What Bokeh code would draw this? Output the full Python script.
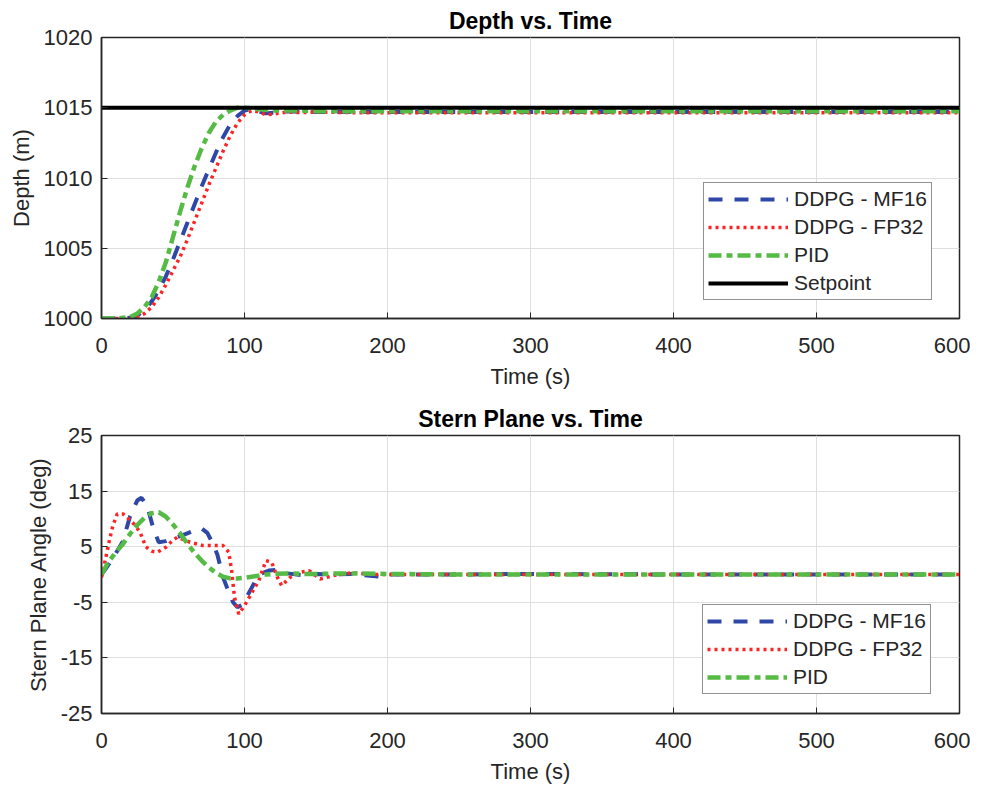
from bokeh.plotting import figure
from bokeh.models import Legend, LegendItem, FixedTicker, Range1d
from bokeh.layouts import column
from bokeh.embed import file_html
from bokeh.resources import INLINE

# ---------------- data ----------------
time_ticks = [0, 100, 200, 300, 400, 500, 600]
depth_ticks = [1000, 1005, 1010, 1015, 1020]
angle_ticks = [-25, -15, -5, 5, 15, 25]
angle_tick_labels = {-25: "-25", -15: "-15", -5: "-5", 5: "5", 15: "15", 25: "25"}

t_depth = [0, 10, 20, 25, 30, 35, 40, 45, 50, 55, 60, 65, 70, 75, 80, 85, 90, 95,
           100, 105, 110, 115, 120, 130, 140, 150, 175, 200, 250, 300, 400, 500, 600]
depth_mf16 = [1000, 1000, 1000.05, 1000.2, 1000.6, 1001.2, 1002.0, 1003.0, 1004.2, 1005.5,
              1006.8, 1008.1, 1009.4, 1010.6, 1011.8, 1012.9, 1013.8, 1014.4,
              1014.8, 1014.9, 1014.75, 1014.6, 1014.65, 1014.75, 1014.7, 1014.7, 1014.7,
              1014.7, 1014.7, 1014.7, 1014.7, 1014.7, 1014.7]
depth_fp32 = [1000, 1000, 1000, 1000.1, 1000.35, 1000.8, 1001.5, 1002.4, 1003.4, 1004.4,
              1005.6, 1006.9, 1008.2, 1009.5, 1010.7, 1011.9, 1013.0, 1013.9,
              1014.5, 1014.8, 1014.7, 1014.5, 1014.55, 1014.7, 1014.65, 1014.7, 1014.65,
              1014.65, 1014.65, 1014.65, 1014.65, 1014.65, 1014.65]
depth_pid = [1000, 1000, 1000.1, 1000.35, 1000.8, 1001.5, 1002.6, 1004.0, 1005.8, 1007.6,
             1009.3, 1010.8, 1012.1, 1013.2, 1014.0, 1014.5, 1014.8, 1015.0,
             1015.0, 1014.95, 1014.9, 1014.85, 1014.8, 1014.8, 1014.8, 1014.75, 1014.75,
             1014.75, 1014.75, 1014.75, 1014.75, 1014.75, 1014.75]
t_setpoint = [0, 600]
depth_setpoint = [1015, 1015]

t_mf16 = [0, 5, 10, 15, 20, 25, 28, 32, 36, 40, 45, 50, 55, 60, 65, 70, 74, 78, 81, 85, 88,
          92, 95, 98, 101, 105, 108, 112, 117, 122, 126, 130, 140, 150, 160, 175, 195, 200,
          250, 300, 400, 500, 600]
angle_mf16 = [0, 1.8, 3.8, 6, 10.5, 13.3, 13.8, 12.3, 8.5, 5.8, 6, 6.5, 6.9, 7.4, 7.9, 8.3,
              7.5, 5.5, 3.6, -0.5, -2.5, -5, -5.9, -5.5, -4.3, -2.4, -1, 0.2, 0.7, 0.8, 0.6,
              0.2, -0.1, 0.1, 0, 0.1, -0.4, 0, 0, 0.1, 0, 0, 0]

t_fp32 = [0, 3, 6, 8, 11, 15, 19, 23, 27, 31, 35, 39, 45, 50, 53, 58, 62, 71, 80, 85, 89, 91,
          93, 96, 100, 104, 110, 115, 119, 123, 126, 132, 139, 145, 153, 162, 175, 190, 250,
          300, 400, 500, 600]
angle_fp32 = [-0.5, 3, 6.7, 8.8, 10.9, 10.9, 10, 9, 7.6, 5, 4.2, 4, 4.9, 6.2, 6.7, 6.2, 5.8,
              5.2, 5.2, 5.2, 4, 0.7, -4.1, -7.1, -5.6, -3.8, -1.1, 2.5, 2.2, -0.5, -2, -0.5,
              0.4, 0.7, -0.8, -0.2, 0.3, 0, 0, 0, 0, 0, 0]

t_pid = [0, 5, 10, 15, 20, 25, 30, 35, 40, 45, 50, 55, 60, 65, 70, 75, 80, 85, 90, 95, 100,
         105, 110, 115, 120, 130, 140, 150, 170, 200, 250, 300, 400, 500, 600]
angle_pid = [0, 2.3, 4, 5.5, 7.3, 8.9, 10.2, 11, 11.2, 10.4, 9, 7.4, 5.6, 3.9, 2.5, 1.3, 0.3,
             -0.4, -0.7, -0.7, -0.6, -0.4, -0.2, 0, 0.1, 0.2, 0.1, 0.1, 0.2, 0.1, 0, 0, 0, 0, 0]

# ---------------- styles ----------------
FONT = "Liberation Sans"
TXT = "#262626"
BLUE = "#2f48a8"
RED = "#ff2222"
GREEN = "#55bb44"
BLACK = "#000000"
W = 970


def make_fig(title, h, top, bottom, yr, yticks, ylabel):
    p = figure(width=W, height=h, output_backend="svg", toolbar_location=None,
               x_range=Range1d(0, 600), y_range=Range1d(*yr),
               min_border_left=101, min_border_right=W - 959,
               min_border_top=top, min_border_bottom=bottom,
               background_fill_color="white", border_fill_color="white")
    p.title.text = title
    p.title.text_font = FONT
    p.title.text_font_size = "23px"
    p.title.text_font_style = "bold"
    p.title.text_color = "#000000"
    p.title.align = "center"
    p.title.standoff = 7
    p.title.offset = 0

    p.xaxis.ticker = FixedTicker(ticks=time_ticks)
    p.yaxis.ticker = FixedTicker(ticks=yticks)
    p.xaxis.axis_label = "Time (s)"
    p.yaxis.axis_label = ylabel
    for ax in (p.xaxis[0], p.yaxis[0]):
        ax.axis_label_text_font = FONT
        ax.axis_label_text_font_size = "22px"
        ax.axis_label_text_font_style = "normal"
        ax.axis_label_text_color = TXT
        ax.major_label_text_font = FONT
        ax.major_label_text_font_size = "22px"
        ax.major_label_text_color = TXT
        ax.major_tick_in = 6
        ax.major_tick_out = 0
        ax.major_tick_line_color = TXT
        ax.minor_tick_line_color = None
        ax.axis_line_color = TXT
        ax.axis_line_width = 1.5
    p.xaxis.major_label_standoff = 19
    p.xaxis.axis_label_standoff = 8
    p.yaxis.major_label_standoff = 9
    p.yaxis.axis_label_standoff = 7

    p.xgrid.ticker = FixedTicker(ticks=time_ticks)
    p.ygrid.ticker = FixedTicker(ticks=yticks)
    p.grid.grid_line_color = "#dfdfdf"
    p.grid.grid_line_width = 1
    p.outline_line_color = TXT
    p.outline_line_width = 1.5
    return p


def make_legend(items, loc):
    return Legend(items=items, location=loc, border_line_color=TXT, border_line_width=1.5,
                  label_text_font=FONT, label_text_font_size="21px", label_text_color=TXT,
                  glyph_width=80, glyph_height=22, label_height=22, label_standoff=6,
                  spacing=4, padding=4, margin=0, background_fill_color="white",
                  background_fill_alpha=1)


H1 = 400
H2 = 392

# ---------------- top figure ----------------
p1 = make_fig("Depth vs. Time", H1, 37, H1 - 318, (1000, 1020), depth_ticks, "Depth (m)")
r1 = p1.line(t_depth, depth_mf16, line_color=BLUE, line_width=4, line_dash="14 12")
r2 = p1.line(t_depth, depth_fp32, line_color=RED, line_width=3.5, line_dash="3 4")
r3 = p1.line(t_depth, depth_pid, line_color=GREEN, line_width=4.5, line_dash="13 5 6 5")
r4 = p1.line(t_setpoint, depth_setpoint, line_color=BLACK, line_width=4)
p1.add_layout(make_legend([
    LegendItem(label="DDPG - MF16", renderers=[r1]),
    LegendItem(label="DDPG - FP32", renderers=[r2]),
    LegendItem(label="PID", renderers=[r3]),
    LegendItem(label="Setpoint", renderers=[r4]),
], (602, 18)), "center")

# ---------------- bottom figure ----------------
p2 = make_fig("Stern Plane vs. Time", H2, 435 - H1, H2 - (713 - H1), (-25, 25), angle_ticks,
              "Stern Plane Angle (deg)")
p2.yaxis[0].major_label_overrides = angle_tick_labels
s1 = p2.line(t_mf16, angle_mf16, line_color=BLUE, line_width=4, line_dash="14 12")
s2 = p2.line(t_fp32, angle_fp32, line_color=RED, line_width=3.5, line_dash="3 4")
s3 = p2.line(t_pid, angle_pid, line_color=GREEN, line_width=4.5, line_dash="13 5 6 5")
p2.add_layout(make_legend([
    LegendItem(label="DDPG - MF16", renderers=[s1]),
    LegendItem(label="DDPG - FP32", renderers=[s2]),
    LegendItem(label="PID", renderers=[s3]),
], (601, 19)), "center")

layout = column(p1, p2, spacing=0)
open("out.html", "w").write(file_html(layout, INLINE))
